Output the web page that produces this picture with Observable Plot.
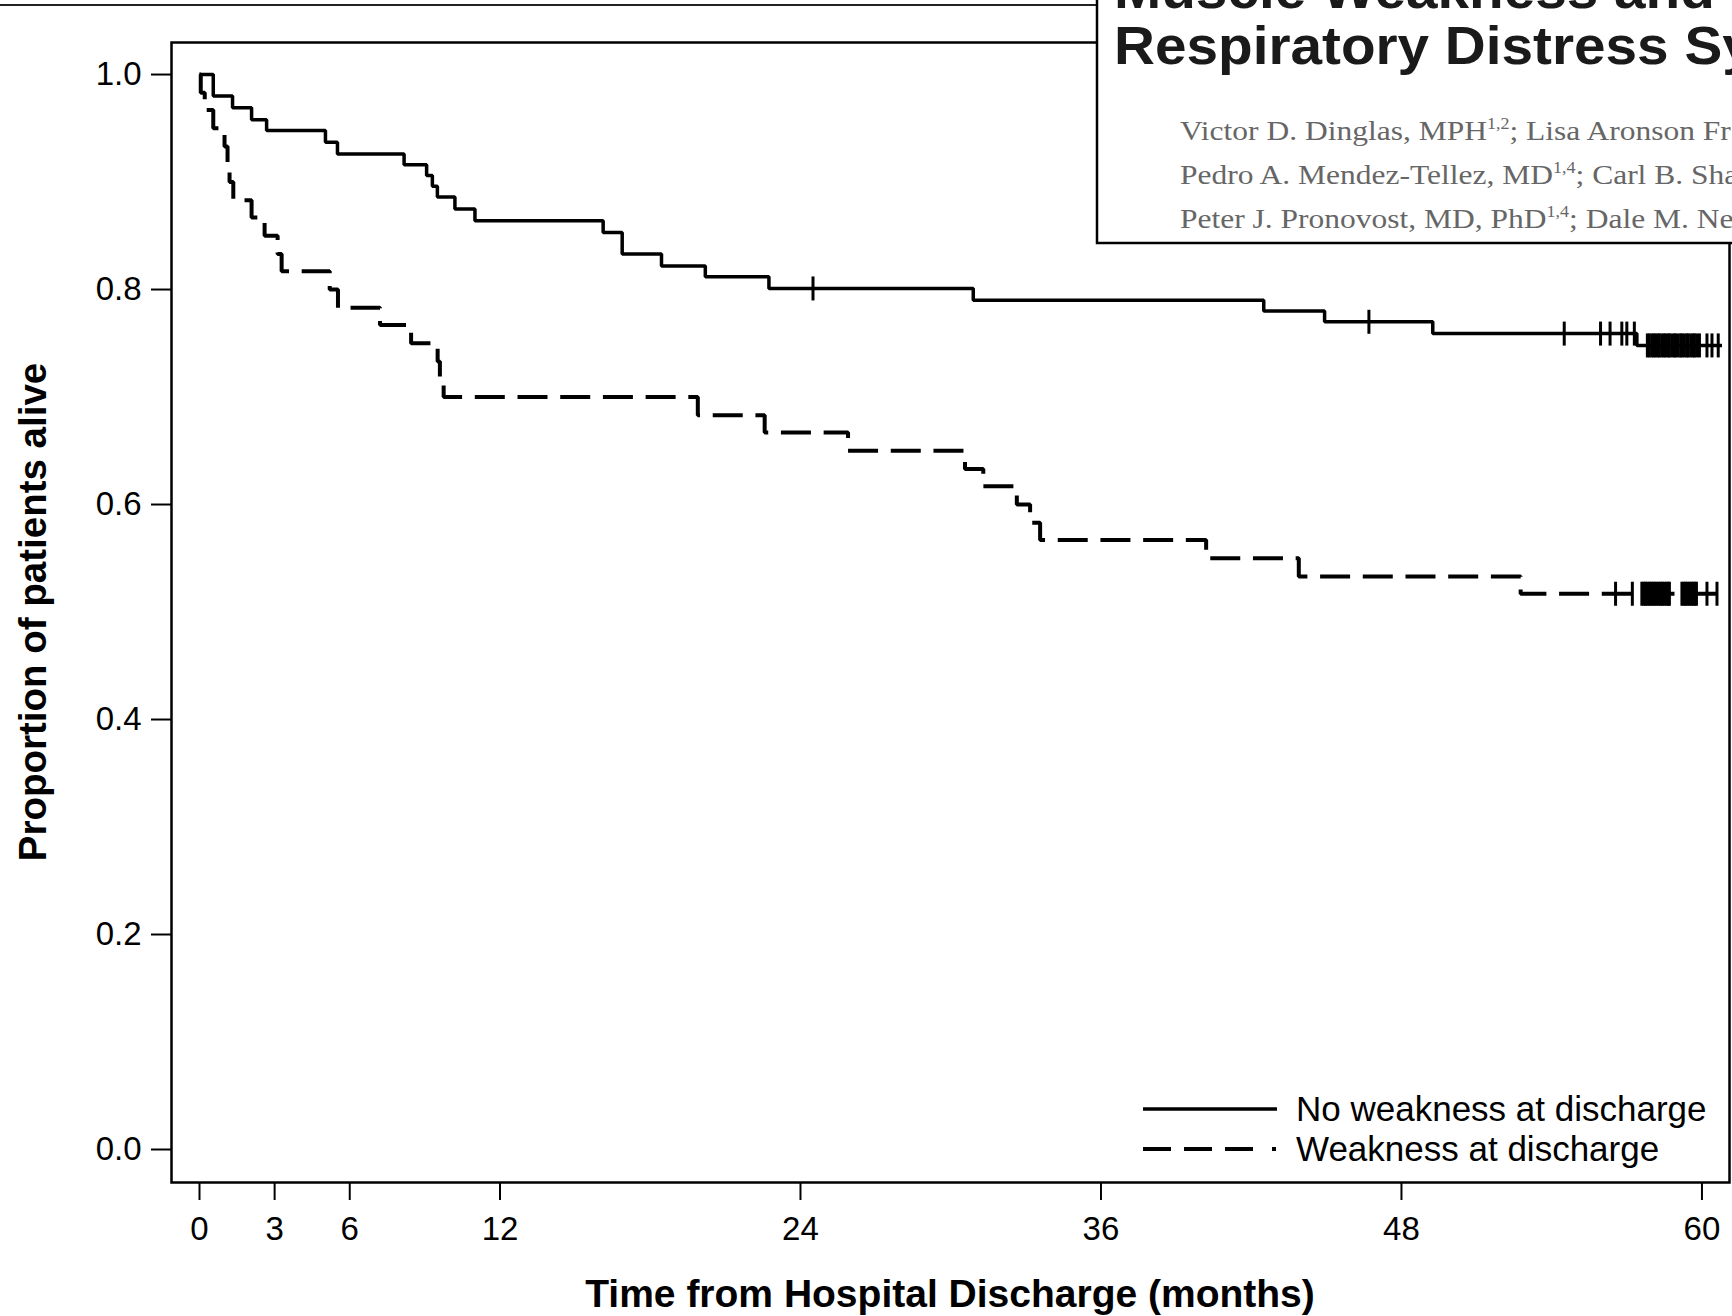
<!DOCTYPE html>
<html>
<head>
<meta charset="utf-8">
<script src="https://cdn.jsdelivr.net/npm/d3@7"></script>
<script src="https://cdn.jsdelivr.net/npm/@observablehq/plot@0.6"></script>
<style>
  html, body { margin: 0; padding: 0; background: white; }
  #chart svg { display: block; }
</style>
</head>
<body>
<div id="chart"></div>
<script>
// ---------------- data ----------------
const xTicks = [0, 3, 6, 12, 24, 36, 48, 60];
const yTicks = [0, 0.2, 0.4, 0.6, 0.8, 1.0];
const seriesNames = ["No weakness at discharge", "Weakness at discharge"];
const xTitle = "Time from Hospital Discharge (months)";
const yTitle = "Proportion of patients alive";

// No weakness at discharge (solid): step times (months) and survival after step
const noWeakTime = [0, 0.55, 1.32, 2.08, 2.68, 5.03, 5.51, 8.17, 9.07, 9.3, 9.5, 10.2, 11.0,
  16.12, 16.88, 18.45, 20.2, 22.74, 30.9, 42.5, 44.93, 49.25, 57.4, 60.8];
const noWeakSurv = [1.0, 0.980, 0.969, 0.958, 0.948, 0.937, 0.926, 0.916, 0.906, 0.896, 0.886, 0.875, 0.864,
  0.853, 0.833, 0.822, 0.812, 0.801, 0.790, 0.780, 0.770, 0.759, 0.748, 0.748];
const noWeakCensor = [24.5, 46.7, 54.5, 55.95, 56.33, 56.8, 57.0, 57.3,
  57.82, 57.9, 58.0, 58.08, 58.15, 58.25, 58.3, 58.4, 58.48, 58.55, 58.65, 58.7, 58.8, 58.9,
  58.95, 59.05, 59.15, 59.2, 59.3, 59.4, 59.45, 59.55, 59.65, 59.7, 59.8, 59.9,
  60.2, 60.4, 60.65];

// Weakness at discharge (dashed)
const weakTime = [0, 0.05, 0.21, 0.55, 1.0, 1.12, 1.2, 1.35, 2.08, 2.6, 3.12, 3.28, 5.2, 5.53,
  7.21, 8.45, 9.51, 9.6, 9.75, 19.9, 22.57, 25.9, 30.57, 31.3, 32.64, 33.17, 33.57, 40.2, 43.9, 52.76, 60.7];
const weakSurv = [1.0, 0.983, 0.967, 0.950, 0.933, 0.917, 0.900, 0.883, 0.867, 0.850, 0.833, 0.817, 0.800, 0.783,
  0.767, 0.750, 0.733, 0.717, 0.700, 0.683, 0.667, 0.650, 0.633, 0.617, 0.600, 0.583, 0.567, 0.550, 0.533, 0.517, 0.517];
const weakCensor = [56.55, 57.22,
  57.6, 57.68, 57.75, 57.82, 57.9, 57.98, 58.05, 58.12, 58.2, 58.28, 58.35, 58.42, 58.5, 58.58, 58.65, 58.7,
  59.2, 59.28, 59.35, 59.42, 59.5, 59.58, 59.65, 59.72, 59.78,
  60.2, 60.6];

// Inset (journal header) text
const headerLine1 = "Muscle Weakness and 5-Year Survival in Acute";
const headerLine2 = "Respiratory Distress Syndrome Survivors";
const authorLines = [
  [["Victor D. Dinglas, MPH", "1,2"], ["; Lisa Aronson Fr", null]],
  [["Pedro A. Mendez-Tellez, MD", "1,4"], ["; Carl B. Sha", null]],
  [["Peter J. Pronovost, MD, PhD", "1,4"], ["; Dale M. Ne", null]]
];

// ---------------- build ----------------
const toRows = (T, S) => T.map((t, i) => ({t, s: S[i]}));
const survAt = (T, S, t) => { let v = S[0]; for (let i = 0; i < T.length; i++) if (T[i] <= t) v = S[i]; return v; };
const noWeak = toRows(noWeakTime, noWeakSurv);
const weak = toRows(weakTime, weakSurv);
const noWeakC = noWeakCensor.map(t => ({t, s: survAt(noWeakTime, noWeakSurv, t)}));
const weakC = weakCensor.map(t => ({t, s: survAt(weakTime, weakSurv, t)}));

const vtick = { draw(ctx, size) { const h = Math.sqrt(size / Math.PI); ctx.moveTo(0, -h); ctx.lineTo(0, h); } };

const W = 1732, H = 1316;
const mL = 171, mR = 3, mT = 42, mB = 134;

const chart = Plot.plot({
  width: W, height: H,
  marginLeft: mL, marginRight: mR, marginTop: mT, marginBottom: mB,
  x: {domain: [-1.118, 61.1]},
  y: {domain: [-0.0307, 1.0298]},
  style: {fontFamily: "'Liberation Sans', Arial, sans-serif", fontSize: "33px", color: "black", background: "white", overflow: "hidden"},
  marks: [
    Plot.frame({stroke: "black", strokeWidth: 2.5}),
    Plot.axisY({ticks: yTicks, tickFormat: d3.format(".1f"), tickSize: 20, tickPadding: 10, strokeWidth: 2, fontSize: 33, label: null}),
    Plot.axisX({ticks: xTicks, tickFormat: d => d, tickSize: 18, tickPadding: 16, strokeWidth: 2, fontSize: 33, label: null}),
    Plot.line(noWeak, {x: "t", y: "s", curve: "step-after", stroke: "black", strokeWidth: 3.5, strokeLinejoin: "miter", strokeLinecap: "butt"}),
    Plot.line(weak, {x: "t", y: "s", curve: "step-after", stroke: "black", strokeWidth: 4, strokeDasharray: "30,12.7", strokeLinejoin: "miter", strokeLinecap: "butt"}),
    Plot.dot(noWeakC, {x: "t", y: "s", symbol: vtick, r: 12, stroke: "black", strokeWidth: 3, fill: "none"}),
    Plot.dot(weakC, {x: "t", y: "s", symbol: vtick, r: 12, stroke: "black", strokeWidth: 3, fill: "none"})
  ]
});

document.getElementById("chart").appendChild(chart);

const svg = d3.select(chart);
const font = "'Liberation Sans', Arial, sans-serif";
const serif = "'Liberation Serif', 'Times New Roman', serif";

// axis titles
svg.append("text").attr("x", (mL + W - mR) / 2).attr("y", 1307)
  .attr("text-anchor", "middle").attr("font-family", font).attr("font-weight", "bold")
  .attr("font-size", 39).attr("fill", "black").text(xTitle);
svg.append("text").attr("transform", `translate(46,${(mT + H - mB) / 2}) rotate(-90)`)
  .attr("text-anchor", "middle").attr("font-family", font).attr("font-weight", "bold")
  .attr("font-size", 38.5).attr("fill", "black").text(yTitle);

// legend
const leg = svg.append("g").attr("text-anchor", "start");
leg.append("line").attr("x1", 1143).attr("x2", 1277).attr("y1", 1109).attr("y2", 1109)
  .attr("stroke", "black").attr("stroke-width", 3.5);
leg.append("line").attr("x1", 1143).attr("x2", 1277).attr("y1", 1149).attr("y2", 1149)
  .attr("stroke", "black").attr("stroke-width", 4).attr("stroke-dasharray", "28,13,28,13,28,19,4,60");
seriesNames.forEach((name, i) => {
  leg.append("text").attr("x", 1296).attr("y", 1121 + i * 40).attr("text-anchor", "start")
    .attr("font-family", font).attr("font-size", 35).attr("fill", "black").text(name);
});

// page border line at the top
svg.append("line").attr("x1", 0).attr("x2", 1098).attr("y1", 5).attr("y2", 5)
  .attr("stroke", "#222").attr("stroke-width", 2);

// inset header box
const box = svg.append("g").attr("text-anchor", "start");
box.append("rect").attr("x", 1097).attr("y", -5).attr("width", 700).attr("height", 248)
  .attr("fill", "white").attr("stroke", "black").attr("stroke-width", 2.5);
[[headerLine1, 8], [headerLine2, 64]].forEach(([txt, y]) => {
  box.append("text").attr("transform", `translate(1114,${y}) scale(1.07,1)`).attr("text-anchor", "start")
    .attr("font-family", font).attr("font-weight", "bold")
    .attr("font-size", 53).attr("fill", "#1a1a1a").text(txt);
});
authorLines.forEach((parts, i) => {
  const t = box.append("text").attr("transform", `translate(1180,${140 + i * 44}) scale(1.125,1)`)
    .attr("text-anchor", "start").attr("font-family", serif).attr("font-size", 28).attr("fill", "#666");
  let shift = 0;
  parts.forEach(([txt, sup]) => {
    t.append("tspan").attr("dy", -shift).text(txt);
    shift = 0;
    if (sup) {
      t.append("tspan").attr("dy", -11).attr("font-size", 16).text(sup);
      shift = -11;
    }
  });
});
</script>
</body>
</html>
